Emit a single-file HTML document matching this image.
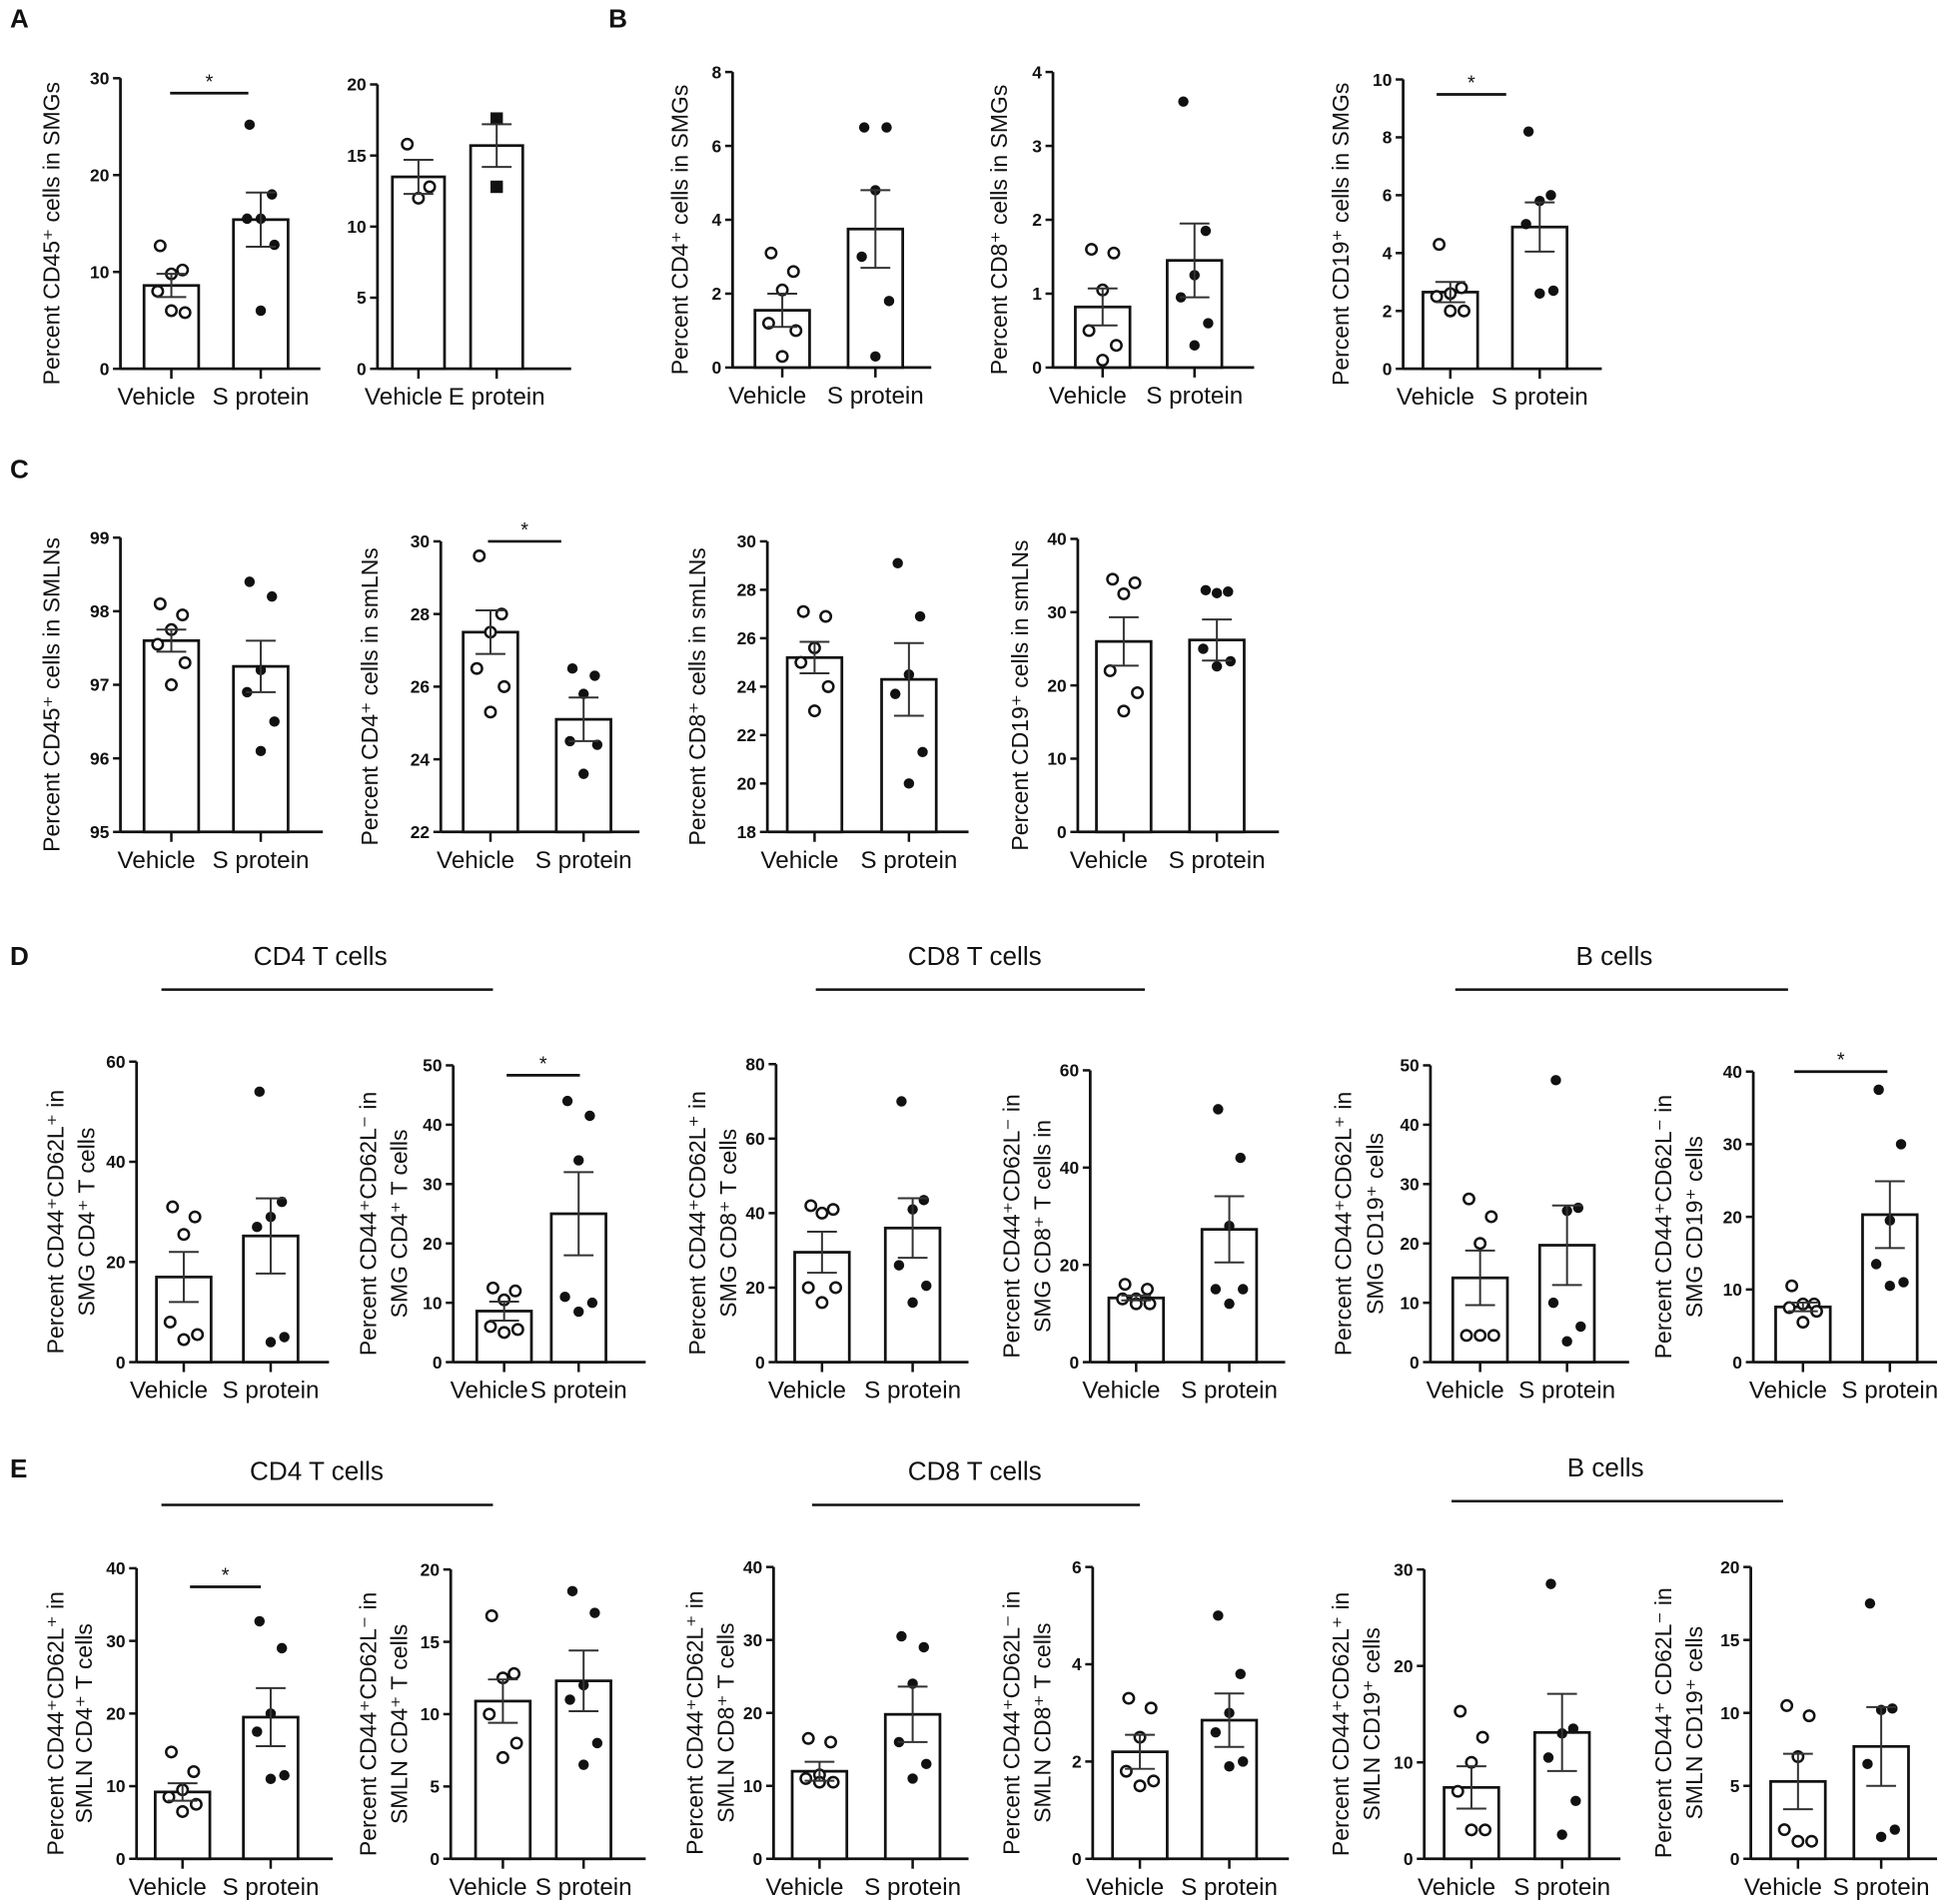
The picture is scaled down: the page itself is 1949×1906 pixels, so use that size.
<!DOCTYPE html>
<html><head><meta charset="utf-8"><style>
html,body{margin:0;padding:0;background:#fff;}
svg{display:block;}
text{font-family:"Liberation Sans",sans-serif;fill:#111;}
.tk{font-size:14px;font-weight:bold;}
.xl{font-size:19.5px;}
.yl{font-size:18.5px;}
.pl{font-size:21px;font-weight:bold;}
.hd{font-size:21px;}
</style></head><body>
<svg id="fig" width="1949" height="1906" viewBox="0 0 1568 1533.4" xmlns="http://www.w3.org/2000/svg"></svg>
<script>
// ---- data ----
const a1Veh=[12.7,10.2,9.8,8,5.8,6];      const a1S=[25.2,18,15.5,15.5,12.8,6];
const a2Veh=[15.8,12.8,12.0];               const a2S=[17.6,12.8];
const b1Veh=[3.1,2.6,2.1,1.2,1.0,0.3];      const b1S=[6.5,6.5,4.8,3.0,1.8,0.3];
const b2Veh=[1.6,1.55,1.05,0.5,0.3,0.1];    const b2S=[3.6,1.85,1.25,0.95,0.6,0.3];
const b3Veh=[4.3,2.8,2.6,2.5,2.0,2.0];      const b3S=[8.2,6.0,5.8,5.0,2.7,2.6];
const c1Veh=[98.1,97.95,97.75,97.55,97.3,97.0]; const c1S=[98.4,98.2,97.2,96.9,96.5,96.1];
const c2Veh=[29.6,28.0,27.5,26.5,26.0,25.3];    const c2S=[26.5,26.3,25.8,24.5,24.4,23.6];
const c3Veh=[27.1,26.9,25.6,25.0,24.0,23.0];    const c3S=[29.1,26.9,24.5,23.7,21.3,20.0];
const c4Veh=[34.5,34.0,32.5,22,19,16.5];        const c4S=[33,32.8,32.6,25,23.3,22.6];
const d1Veh=[31,29,25.5,8,5.5,4.5];   const d1S=[54,32,29,27,5,4];
const d2Veh=[12.5,12,10.5,6,5.5,5];   const d2S=[44,41.5,34,11,10,8.5];
const d3Veh=[42,41,40,20,20,16];      const d3S=[70,43.5,41,26,20.5,16];
const d4Veh=[16,15,13,13,12,12];      const d4S=[52,42,28,15,15,12];
const d5Veh=[27.5,24.5,20,4.5,4.5,4.5]; const d5S=[47.5,26,25.5,10,6,3.5];
const d6Veh=[10.5,8,8,7.5,7,5.5];     const d6S=[37.5,30,19.5,13.5,11,10.5];
const e1Veh=[14.7,12,9.5,8.5,7.5,6.5]; const e1S=[32.7,29,20,17.5,11.5,11];
const e2Veh=[16.8,12.8,12.5,10,8,7];   const e2S=[18.5,17,12,11,8,6.5];
const e3Veh=[16.5,16,11.5,11,10.5,10.5]; const e3S=[30.5,29,24,16,13,11];
const e4Veh=[3.3,3.1,2.5,1.8,1.6,1.5]; const e4S=[5,3.8,3,2.6,2,1.9];
const e5Veh=[15.3,12.6,10,7,3,3];      const e5S=[28.5,13.5,13,10.5,6,2.5];
const e6Veh=[10.5,9.8,7,2,1.2,1.2];    const e6S=[17.5,10.3,10.2,6.5,2,1.5];
const barMeans=[[8.6,15.4],[13.5,15.7],[1.55,3.75],[0.82,1.45],[2.65,4.9],[97.6,97.25],[27.5,25.1],[25.2,24.3],[26,26.2],
 [17,25.2],[8.6,25],[29.5,36],[13.2,27.3],[14.2,19.7],[7.6,20.3],[9.2,19.5],[10.9,12.3],[12,19.8],[2.2,2.85],[7.4,13.1],[5.3,7.7]];
const barSems=[[1.2,2.8],[1.2,1.5],[0.45,1.05],[0.25,0.5],[0.35,0.85],[0.15,0.35],[0.6,0.6],[0.65,1.5],[3.3,2.8],
 [5,7.5],[1.6,7],[5.5,8],[0.5,6.8],[4.6,6.7],[0.6,4.6],[1.2,4.0],[1.5,2.1],[1.3,3.8],[0.35,0.55],[2.2,4.0],[1.9,2.7]];
const ticksA1=[0,10,20,30], ticksA2=[0,5,10,15,20], ticksB1=[0,2,4,6,8], ticksB2=[0,1,2,3,4], ticksB3=[0,2,4,6,8,10];
const ticksC1=[95,96,97,98,99], ticksC2=[22,24,26,28,30], ticksC3=[18,20,22,24,26,28,30], ticksC4=[0,10,20,30,40];
const ticksD1=[0,20,40,60], ticksD2=[0,10,20,30,40,50], ticksD3=[0,20,40,60,80], ticksD4=[0,20,40,60], ticksD5=[0,10,20,30,40,50], ticksD6=[0,10,20,30,40];
const ticksE1=[0,10,20,30,40], ticksE2=[0,5,10,15,20], ticksE3=[0,10,20,30,40], ticksE4=[0,2,4,6], ticksE5=[0,10,20,30], ticksE6=[0,5,10,15,20];

// ---- layout ----
const panels=[
 {id:'a1',v:a1Veh,s:a1S,t:ticksA1,ax:97,xe:258,yt:63,yb:297,c:[138,210],bw:44,yl:['Percent CD45⁺ cells in SMGs'],lx:[42],cats:['Vehicle','S protein'],sig:[137,200,75]},
 {id:'a2',v:a2Veh,s:a2S,t:ticksA2,ax:304,xe:460,yt:68,yb:297,c:[337,400],bw:42,yl:[],lx:[],cats:['Vehicle','E protein'],sq:true},
 {id:'b1',v:b1Veh,s:b1S,t:ticksB1,ax:590,xe:750,yt:58,yb:296,c:[630,705],bw:44,yl:['Percent CD4⁺ cells in SMGs'],lx:[548],cats:['Vehicle','S protein']},
 {id:'b2',v:b2Veh,s:b2S,t:ticksB2,ax:848,xe:1010,yt:58,yb:296,c:[888,962],bw:44,yl:['Percent CD8⁺ cells in SMGs'],lx:[805],cats:['Vehicle','S protein']},
 {id:'b3',v:b3Veh,s:b3S,t:ticksB3,ax:1130,xe:1290,yt:64,yb:297,c:[1168,1240],bw:44,yl:['Percent CD19⁺ cells in SMGs'],lx:[1080],cats:['Vehicle','S protein'],sig:[1157,1213,76]},
 {id:'c1',v:c1Veh,s:c1S,t:ticksC1,ax:97,xe:260,yt:433,yb:670,c:[138,210],bw:44,yl:['Percent CD45⁺ cells in SMLNs'],lx:[42],cats:['Vehicle','S protein']},
 {id:'c2',v:c2Veh,s:c2S,t:ticksC2,ax:355,xe:515,yt:436,yb:670,c:[395,470],bw:44,yl:['Percent CD4⁺ cells in smLNs'],lx:[298],cats:['Vehicle','S protein'],sig:[393,452,436]},
 {id:'c3',v:c3Veh,s:c3S,t:ticksC3,ax:618,xe:780,yt:436,yb:670,c:[656,732],bw:44,yl:['Percent CD8⁺ cells in smLNs'],lx:[562],cats:['Vehicle','S protein']},
 {id:'c4',v:c4Veh,s:c4S,t:ticksC4,ax:868,xe:1030,yt:434,yb:670,c:[905,980],bw:44,yl:['Percent CD19⁺ cells in smLNs'],lx:[822],cats:['Vehicle','S protein']},
 {id:'d1',v:d1Veh,s:d1S,t:ticksD1,ax:110,xe:265,yt:855,yb:1097,c:[148,218],bw:44,yl:['Percent CD44⁺CD62L⁺ in','SMG CD4⁺ T cells'],lx:[45,70],cats:['Vehicle','S protein']},
 {id:'d2',v:d2Veh,s:d2S,t:ticksD2,ax:365,xe:520,yt:858,yb:1097,c:[406,466],bw:44,yl:['Percent CD44⁺CD62L⁻ in','SMG CD4⁺ T cells'],lx:[297,322],cats:['Vehicle','S protein'],sig:[408,467,866]},
 {id:'d3',v:d3Veh,s:d3S,t:ticksD3,ax:625,xe:780,yt:857,yb:1097,c:[662,735],bw:44,yl:['Percent CD44⁺CD62L⁺ in','SMG CD8⁺ T cells'],lx:[562,587],cats:['Vehicle','S protein']},
 {id:'d4',v:d4Veh,s:d4S,t:ticksD4,ax:878,xe:1035,yt:862,yb:1097,c:[915,990],bw:44,yl:['Percent CD44⁺CD62L⁻ in','SMG CD8⁺ T cells in'],lx:[815,840],cats:['Vehicle','S protein']},
 {id:'d5',v:d5Veh,s:d5S,t:ticksD5,ax:1152,xe:1312,yt:858,yb:1097,c:[1192,1262],bw:44,yl:['Percent CD44⁺CD62L⁺ in','SMG CD19⁺ cells'],lx:[1082,1108],cats:['Vehicle','S protein']},
 {id:'d6',v:d6Veh,s:d6S,t:ticksD6,ax:1412,xe:1560,yt:863,yb:1097,c:[1452,1522],bw:44,yl:['Percent CD44⁺CD62L⁻ in','SMG CD19⁺ cells'],lx:[1340,1365],cats:['Vehicle','S protein'],sig:[1445,1520,863]},
 {id:'e1',v:e1Veh,s:e1S,t:ticksE1,ax:110,xe:268,yt:1263,yb:1497,c:[147,218],bw:44,yl:['Percent CD44⁺CD62L⁺ in','SMLN CD4⁺ T cells'],lx:[45,68],cats:['Vehicle','S protein'],sig:[153,210,1278]},
 {id:'e2',v:e2Veh,s:e2S,t:ticksE2,ax:363,xe:520,yt:1264,yb:1497,c:[405,470],bw:44,yl:['Percent CD44⁺CD62L⁻ in','SMLN CD4⁺ T cells'],lx:[297,322],cats:['Vehicle','S protein']},
 {id:'e3',v:e3Veh,s:e3S,t:ticksE3,ax:623,xe:780,yt:1262,yb:1497,c:[660,735],bw:44,yl:['Percent CD44⁺CD62L⁺ in','SMLN CD8⁺ T cells'],lx:[560,585],cats:['Vehicle','S protein']},
 {id:'e4',v:e4Veh,s:e4S,t:ticksE4,ax:880,xe:1038,yt:1262,yb:1497,c:[918,990],bw:44,yl:['Percent CD44⁺CD62L⁻ in','SMLN CD8⁺ T cells'],lx:[815,840],cats:['Vehicle','S protein']},
 {id:'e5',v:e5Veh,s:e5S,t:ticksE5,ax:1147,xe:1305,yt:1264,yb:1497,c:[1185,1258],bw:44,yl:['Percent CD44⁺CD62L⁺ in','SMLN CD19⁺ cells'],lx:[1080,1105],cats:['Vehicle','S protein']},
 {id:'e6',v:e6Veh,s:e6S,t:ticksE6,ax:1410,xe:1560,yt:1262,yb:1497,c:[1448,1515],bw:44,yl:['Percent CD44⁺ CD62L⁻ in','SMLN CD19⁺ cells'],lx:[1340,1365],cats:['Vehicle','S protein']}
];
const jit=[-9,9,0,-11,11,0];
const NS='http://www.w3.org/2000/svg';
const svg=document.getElementById('fig');
function mk(tag,at,parent,txt){const e=document.createElementNS(NS,tag);for(const k in at)e.setAttribute(k,at[k]);if(txt!==undefined)e.textContent=txt;(parent||svg).appendChild(e);return e;}

[['A',8,22],['B',490,22],['C',8,385],['D',8,777],['E',8,1190]].forEach(p=>{
 const t=mk('text',{x:p[1],y:p[2],class:'pl'},svg,p[0]);
 
 
});
[['CD4 T cells',258,777,130,397,797],['CD8 T cells',785,777,657,922,797],['B cells',1300,777,1172,1440,797],
 ['CD4 T cells',255,1192,130,397,1212],['CD8 T cells',785,1192,654,918,1212],['B cells',1293,1189,1169,1436,1209]].forEach((h,i)=>{
 const g=mk('g',{});
 
 
 mk('text',{x:h[1],y:h[2],class:'hd','text-anchor':'middle'},g,h[0]);
 mk('line',{x1:h[3],x2:h[4],y1:h[5],y2:h[5],stroke:'#111','stroke-width':2},g);
});

panels.forEach((p,pi)=>{
 const g=mk('g',{});
 
 
 const lo=p.t[0], hi=p.t[p.t.length-1];
 const y=v=>p.yb-(v-lo)/(hi-lo)*(p.yb-p.yt);
 mk('line',{x1:p.ax,x2:p.ax,y1:p.yt,y2:p.yb,stroke:'#111','stroke-width':2.2},g);
 mk('line',{x1:p.ax,x2:p.xe,y1:p.yb,y2:p.yb,stroke:'#111','stroke-width':2.2},g);
 p.t.forEach(t=>{
  mk('line',{x1:p.ax-6,x2:p.ax,y1:y(t),y2:y(t),stroke:'#111','stroke-width':2},g);
  const tl=mk('text',{x:p.ax-9,y:y(t)+5,class:'tk','text-anchor':'end'},g,String(t));
  
  
 });
 const groups=[p.v,p.s];
 groups.forEach((vals,gi)=>{
  const cx=p.c[gi], m=barMeans[pi][gi], se=barSems[pi][gi];
  mk('line',{x1:cx,x2:cx,y1:p.yb,y2:p.yb+8,stroke:'#111','stroke-width':2},g);
  const b=mk('rect',{x:cx-p.bw/2,y:y(m),width:p.bw,height:p.yb-y(m),fill:'#fff',stroke:'#111','stroke-width':2.2},g);
  
  
  vals.forEach((v,k)=>{
   const px=cx+jit[k%jit.length];
   let pt;
   if(p.sq&&gi===1) pt=mk('rect',{x:cx-5,y:y(v)-5,width:10,height:10,fill:'#111'},g);
   else pt=mk('circle',{cx:px,cy:y(v),r:4.2,fill:gi?'#111':'#fff',stroke:'#111','stroke-width':gi?0:2},g);
   
   
  });
  const eb=mk('g',{stroke:'#333','stroke-width':1.6},g);
  
  
  mk('line',{x1:cx,x2:cx,y1:y(m+se),y2:y(m-se)},eb);
  mk('line',{x1:cx-12,x2:cx+12,y1:y(m+se),y2:y(m+se)},eb);
  mk('line',{x1:cx-12,x2:cx+12,y1:y(m-se),y2:y(m-se)},eb);
  const xl=mk('text',{x:cx+(gi?0:-12),y:p.yb+29,class:'xl','text-anchor':'middle'},g,p.cats[gi]);
  
  
 });
 const midY=(p.yt+p.yb)/2+8;
 p.yl.forEach((s,i)=>{
  const t=mk('text',{x:0,y:0,class:'yl','text-anchor':'middle',transform:'translate('+(p.lx[i]+6)+','+midY+') rotate(-90)'},g,s);
  
  
 });
 if(p.sig){
  const sg=mk('g',{});
  
  
  g.appendChild(sg);
  mk('line',{x1:p.sig[0],x2:p.sig[1],y1:p.sig[2],y2:p.sig[2],stroke:'#111','stroke-width':2.2},sg);
  mk('text',{x:(p.sig[0]+p.sig[1])/2,y:p.sig[2]-4,'text-anchor':'middle','font-size':16},sg,'*');
 }
});
</script>
</body></html>
